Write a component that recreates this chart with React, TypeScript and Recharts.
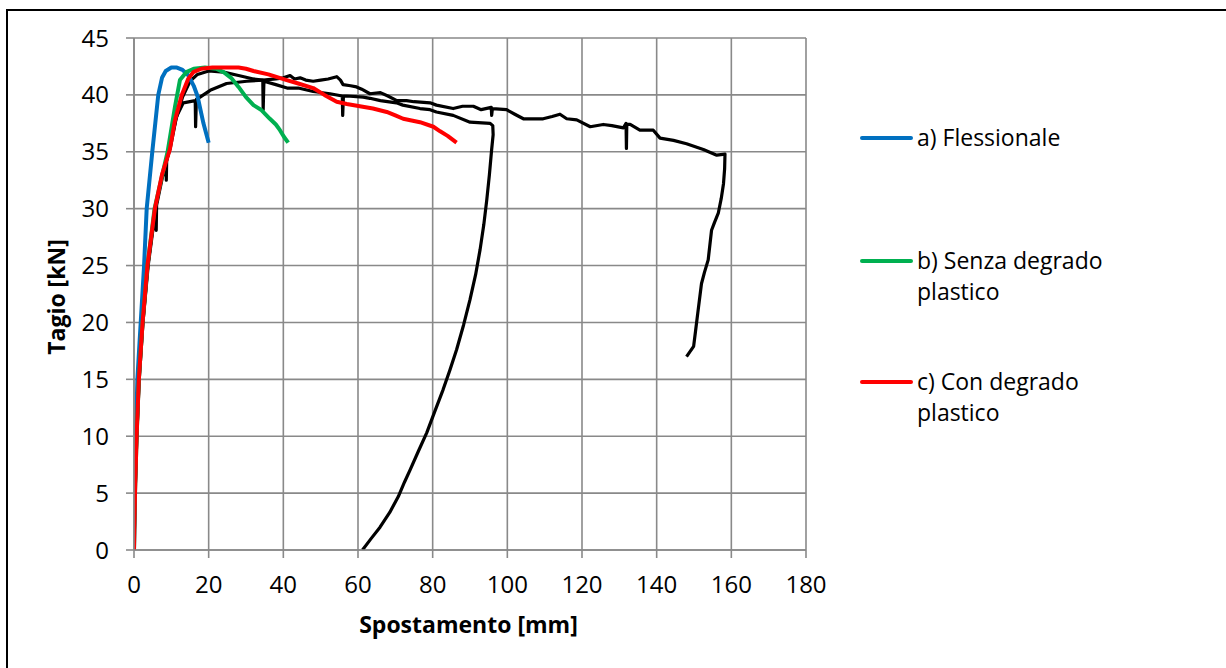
import React from 'react';
import { LineChart, Line, XAxis, YAxis, CartesianGrid, Label } from 'recharts';

type Pt = { x: number; y: number };
const toPts = (arr: number[][]): Pt[] => arr.map(([x, y]) => ({ x, y }));

const xTicks = [0, 20, 40, 60, 80, 100, 120, 140, 160, 180];
const yTicks = [0, 5, 10, 15, 20, 25, 30, 35, 40, 45];

const flessionale = [
  [0, 0], [0.2, 5], [0.5, 10], [0.9, 15], [1.8, 20], [2.7, 25], [3.4, 30], [4.9, 35], [6.5, 40],
  [7.5, 41.5], [8.5, 42.1], [10, 42.4], [11.5, 42.4], [13, 42.2], [14.6, 41.7], [16, 40.8],
  [17, 39.9], [18.6, 37.5], [20, 35.8],
];

const senzaDegrado = [
  [0, 0], [0.27, 5], [0.7, 10], [1.3, 15], [2.3, 20], [3.6, 25], [5.5, 30], [9, 35], [11, 39],
  [12.3, 41.3], [14, 42], [16, 42.3], [19, 42.4], [22, 42.3], [24, 42], [26, 41.5], [28, 40.7],
  [30, 39.8], [32, 39.1], [34, 38.7], [36.4, 37.9], [38, 37.4], [39.1, 36.9], [40.2, 36.3], [41.3, 35.8],
];

const conDegrado = [
  [0, 0], [0.27, 5], [0.7, 10], [1.3, 15], [2.3, 20], [3.6, 25], [5.6, 30], [7.5, 33], [9.6, 35.2],
  [11, 37.8], [12.8, 40], [14.5, 41.4], [15.9, 42], [18, 42.3], [21, 42.4], [28, 42.4], [30, 42.3],
  [32, 42.1], [36, 41.8], [40.9, 41.3], [44, 41], [48, 40.6], [51, 40], [54.3, 39.4], [57, 39.2],
  [60.5, 39], [64, 38.8], [67.7, 38.5], [70, 38.2], [72.1, 37.9], [76.6, 37.6], [80.2, 37.2],
  [82, 36.8], [84, 36.4], [86.4, 35.8],
];

const sperimentaleA = [
  [0, 0], [0.3, 5], [0.75, 10], [1.35, 15], [2.35, 20], [3.7, 25], [5.7, 30], [7.6, 33], [9.7, 35.3],
  [11.2, 37.8], [13, 39.8], [15, 41.2], [17, 41.8], [20, 42.1], [24, 42], [28, 41.7], [32, 41.4],
  [34.5, 41.3], [34.6, 38.7], [34.8, 41.2], [38, 40.9], [41, 40.6], [44, 40.6], [48, 40.3],
  [52.5, 40.1], [55.8, 39.9], [55.9, 38.2], [56.1, 39.9], [57, 39.9], [61.4, 39.8], [63.2, 39.7],
  [66, 39.5], [70.3, 39.3], [72, 39.1], [76.6, 38.8], [79.3, 38.7], [81, 38.5], [85.5, 38.2],
  [90, 37.6], [95.4, 37.5], [96.1, 37.3], [96.2, 36.5], [95.8, 35.2], [95.2, 33], [94.5, 30.8],
  [93.7, 28.6], [92.7, 26.4], [91.5, 24.2], [90, 22], [88.3, 19.8], [86.4, 17.6], [84.6, 15.8],
  [82.8, 14.1], [80.6, 12.2], [78.4, 10.3], [76.2, 8.7], [73.9, 7], [72.5, 6], [70.8, 4.7],
  [68.5, 3.3], [65.9, 2], [63.5, 1], [61.2, 0],
];

const sperimentaleB = [
  [0, 0], [0.3, 5], [0.75, 10], [1.4, 15], [2.4, 20], [3.8, 25], [5.2, 28.5], [5.9, 30.2],
  [5.95, 28.1], [6.05, 30.3], [7.5, 32.6], [8.6, 34], [8.65, 32.5], [8.75, 34.2], [9.6, 35.5],
  [11.4, 38.1], [13.2, 39.3], [16.4, 39.5], [16.5, 37.2], [16.7, 39.6], [17.7, 39.8], [20.4, 40.4],
  [24.8, 41], [30.2, 41.2], [34.6, 41.3], [38, 41.4], [40, 41.5], [41.8, 41.7], [43, 41.4],
  [44.5, 41.5], [46, 41.3], [48, 41.2], [50, 41.3], [52, 41.4], [54.3, 41.6], [55.3, 41.3],
  [56, 40.9], [58, 40.8], [59.6, 40.7], [61, 40.5], [63.2, 40.1], [66, 40.2], [68, 39.9],
  [70.4, 39.5], [73, 39.5], [75, 39.4], [79.3, 39.3], [81, 39.1], [85.5, 38.8], [88, 39],
  [90.9, 39], [93, 38.7], [95.7, 38.9], [95.8, 38.2], [96, 38.8], [99.8, 38.7], [102, 38.3],
  [104.3, 37.9], [109.6, 37.9], [112, 38.1], [114.1, 38.3], [115.9, 37.9], [118.6, 37.8],
  [122.2, 37.2], [125.7, 37.4], [128, 37.3], [131.1, 37.1], [131.8, 37.5], [131.9, 35.3],
  [132, 37.4], [132.9, 37.4], [135.5, 36.9], [139.1, 36.9], [140.9, 36.2], [144.5, 36],
  [148, 35.7], [152.5, 35.2], [156.1, 34.7], [158.3, 34.8], [158.2, 33.5], [157.9, 32.2],
  [157.3, 30.9], [156.5, 29.6], [155.5, 28.8], [154.7, 28.1], [153.8, 25.5], [152.8, 24.4],
  [152, 23.4], [151, 20.8], [150.4, 19.2], [149.9, 17.9], [148, 17],
];

const legendNames = ['a) Flessionale', 'b) Senza degrado plastico', 'c) Con degrado plastico'];
const legendColors = ['#0070C0', '#00B050', '#FF0000'];

const FONT = '"Open Sans", sans-serif';
const GRID = '#898989';

const YTitle = (props: any) => {
  const vb = props.viewBox;
  const x = vb.x + 11;
  const y = vb.y + vb.height / 2 + 3;
  return (
    <text x={x} y={y} transform={`rotate(-90, ${x}, ${y})`} textAnchor="middle"
      fontFamily={FONT} fontSize={23} fontWeight={700} fill="#000">Tagio [kN]</text>
  );
};

const XTitle = (props: any) => {
  const vb = props.viewBox;
  return (
    <text x={vb.x + vb.width / 2 - 1.5} y={vb.y + 83} textAnchor="middle"
      fontFamily={FONT} fontSize={23} fontWeight={700} fill="#000">Spostamento [mm]</text>
  );
};

const legendTops = [122, 245, 366];

export default function App() {
  return (
    <div style={{ position: 'fixed', left: 0, top: 0, width: 1226, height: 668, overflow: 'hidden', background: '#fff' }}>
      <div style={{ position: 'absolute', left: 6, top: 9, width: 1400, height: 900, borderLeft: '2px solid #000', borderTop: '2px solid #000' }} />
      <div style={{ position: 'absolute', left: 0, top: 0 }}>
        <LineChart width={1226} height={668} margin={{ top: 38, right: 420, bottom: 0, left: 54 }}>
          <CartesianGrid stroke={GRID} strokeWidth={1.6} />
          <XAxis type="number" dataKey="x" domain={[0, 180]} ticks={xTicks} height={118}
            allowDataOverflow interval={0}
            axisLine={{ stroke: GRID, strokeWidth: 1.6 }} tickLine={{ stroke: GRID, strokeWidth: 1.6 }}
            tickSize={8} tickMargin={18}
            tick={{ fill: '#000', fontSize: 24, fontFamily: FONT }}>
            <Label content={XTitle} />
          </XAxis>
          <YAxis type="number" dataKey="y" domain={[0, 45]} ticks={yTicks} width={80}
            allowDataOverflow interval={0}
            axisLine={{ stroke: GRID, strokeWidth: 1.6 }} tickLine={{ stroke: GRID, strokeWidth: 1.6 }}
            tickSize={8} tickMargin={17}
            tick={{ fill: '#000', fontSize: 24, fontFamily: FONT }}>
            <Label content={YTitle} />
          </YAxis>
          <Line data={toPts(sperimentaleB)} dataKey="y" type="linear" stroke="#000" strokeWidth={3.2}
            dot={false} activeDot={false} isAnimationActive={false} legendType="none" strokeLinejoin="round" />
          <Line data={toPts(sperimentaleA)} dataKey="y" type="linear" stroke="#000" strokeWidth={3.2}
            dot={false} activeDot={false} isAnimationActive={false} legendType="none" strokeLinejoin="round" />
          <Line data={toPts(flessionale)} dataKey="y" name={legendNames[0]} type="linear" stroke={legendColors[0]}
            strokeWidth={4} dot={false} activeDot={false} isAnimationActive={false} strokeLinejoin="round" />
          <Line data={toPts(senzaDegrado)} dataKey="y" name={legendNames[1]} type="linear" stroke={legendColors[1]}
            strokeWidth={4} dot={false} activeDot={false} isAnimationActive={false} strokeLinejoin="round" />
          <Line data={toPts(conDegrado)} dataKey="y" name={legendNames[2]} type="linear" stroke={legendColors[2]}
            strokeWidth={4} dot={false} activeDot={false} isAnimationActive={false} strokeLinejoin="round" />
        </LineChart>
      </div>
      {legendNames.map((name, i) => (
        <div key={name} style={{ position: 'absolute', left: 860, top: legendTops[i], display: 'flex', alignItems: 'flex-start' }}>
          <div style={{ width: 53, height: 4, background: legendColors[i], marginTop: 14, borderRadius: 2 }} />
          <div style={{ marginLeft: 4, width: 200, fontFamily: FONT, fontSize: 23, lineHeight: '30.5px', color: '#000' }}>{name}</div>
        </div>
      ))}
    </div>
  );
}
